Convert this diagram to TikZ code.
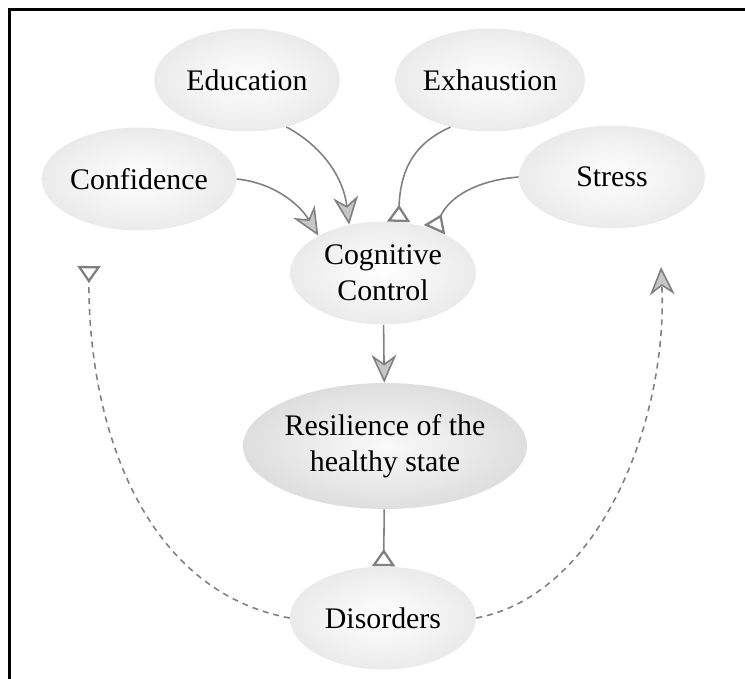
\documentclass[tikz,border=0pt]{standalone}
\usepackage{fontspec}
\setmainfont{Liberation Serif}
\usepackage{tikz}
\usetikzlibrary{arrows.meta, shapes.geometric, positioning}
\tikzset{
    bubble/.style={ellipse, shading=radial, inner color=white, outer color=gray!16,
        minimum width=3.72cm, minimum height=2.06cm, inner sep=0pt, align=center,
        font=\fontsize{17}{20.5}\selectfont},
    bigbubble/.style={bubble, inner color=gray!4, outer color=gray!26,
        minimum width=4.86cm, minimum height=2.52cm},
    pull/.style={draw=gray, line width=0.9pt,
        -{Stealth[length=0.56cm, width=0.5cm, inset=0.18cm, fill=gray!45]}},
    block/.style={draw=gray, line width=0.9pt,
        -{Triangle[open, reversed, length=0.34cm, width=0.46cm, line width=1.3pt]}},
    loose/.style={dash pattern=on 3.4pt off 2.8pt, line width=0.8pt}
}

\begin{document}
\begin{tikzpicture}[x=0.02cm, y=-0.02cm]
                        \useasboundingbox (0, 0) rectangle (745, 679);
                        \draw[line width=1.4pt] (9.5, 679) -- (9.5, 9.5) -- (745, 9.5);
                        \node[bubble] (edu) at (247, 80) {Education};
                        \node[bubble] (exh) at (490, 80) {Exhaustion};
                        \node[bubble] (conf) at (139, 179) {Confidence};
                        \node[bubble] (stress) at (612, 177) {Stress};
                        \node[bubble] (cog) at (383, 273) {Cognitive\\Control};
                        \node[bigbubble] (res) at (385, 446) {Resilience of the\\healthy state};
                        \node[bubble] (dis) at (383, 618) {Disorders};
                        \coordinate (lend) at (89, 266);
                        \coordinate (rend) at (661, 267);
                        \draw[pull] (conf.east) .. controls (275, 183) and (300, 205) .. (cog.150);
                        \draw[pull] (edu.-50) .. controls (320, 145) and (343, 175) .. (cog.125);
                        \draw[block] (exh.-130) .. controls (410, 145) and (400, 175) .. (cog.73);
                        \draw[block] (stress.west) .. controls (480, 180) and (450, 195) .. (cog.40);
                        \draw
                        (cog) edge[pull] (res)
                        (res) edge[block] (dis);
                        \draw[loose, block] (dis.west) .. controls (140, 590) and (88, 420) .. (lend);
                        \draw[loose, pull] (dis.east) .. controls (600, 595) and (668, 420) .. (rend);
                    \end{tikzpicture}
\end{document}
